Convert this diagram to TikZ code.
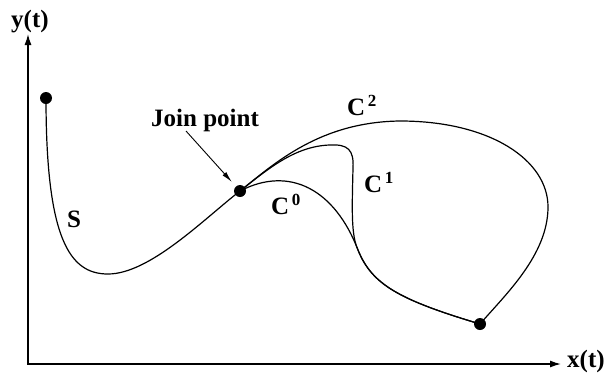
\documentclass[tikz,border=0pt]{standalone}
\usepackage{fontspec}
\setmainfont{Liberation Serif}
\usetikzlibrary{arrows.meta}
\newcommand\Csup[1]{C\kern2.5pt\raisebox{9pt}{\fontsize{17}{17}\selectfont #1}}
\begin{document}
\begin{tikzpicture}[x=1pt,y=-1pt,
  curve/.style={line width=1.2pt},
  axisline/.style={line width=1.4pt},
  dot/.style={circle,fill=black,inner sep=0pt,minimum size=12pt},
  lbl/.style={font=\fontsize{25}{25}\selectfont\bfseries,inner sep=0pt,anchor=base west}]
\useasboundingbox (0,0) rectangle (604,375);
% axes
\coordinate (org) at (28,364);
\coordinate (ytip) at (28,34);
\coordinate (xtip) at (561,364);
\draw[axisline,{Latex[length=11pt,width=7pt]}-{Latex[length=11pt,width=7pt]}] (ytip) -- (org) -- (xtip);
\node[lbl] (ylab) at (11,27) {y(t)};
\node[lbl] (xlab) at (567,367) {x(t)};
% points
\node[dot] (s0) at (46,98) {};
\node[dot] (jp) at (240,191) {};
\node[dot] (ep) at (480,324) {};
\coordinate (mrg) at (358,250);
% S curve
\draw[curve] (s0.center) .. controls (46,240) and (70,274) .. (108,274)
  .. controls (150,274) and (205,218) .. (jp.center);
% C2
\draw[curve] (jp.center) .. controls (275,163) and (320,122) .. (400,121)
  .. controls (490,121) and (548,160) .. (548,207)
  .. controls (548,255) and (505,295) .. (ep.center);
% C1
\draw[curve] (jp.center) .. controls (268,169) and (295,146) .. (330,145)
  .. controls (348,144) and (354,150) .. (353,168)
  .. controls (352,210) and (351,235) .. (mrg)
  .. controls (372,285) and (400,300) .. (ep.center);
% C0
\draw[curve] (jp.center) .. controls (290,165) and (335,190) .. (mrg)
  .. controls (372,285) and (400,300) .. (ep.center);
% labels
\node[lbl] (sl) at (67,227) {S};
\node[lbl] (c0) at (271,214) {\Csup{0}};
\node[lbl] (c1) at (364,192) {\Csup{1}};
\node[lbl] (c2) at (347,115) {\Csup{2}};
\node[lbl] (jl) at (151,126) {Join point};
\coordinate (jstart) at (186,131);
\draw[line width=0.9pt,-{Latex[length=11pt,width=5pt]},shorten >=6pt] (jstart) -- (jp);
\end{tikzpicture}
\end{document}
